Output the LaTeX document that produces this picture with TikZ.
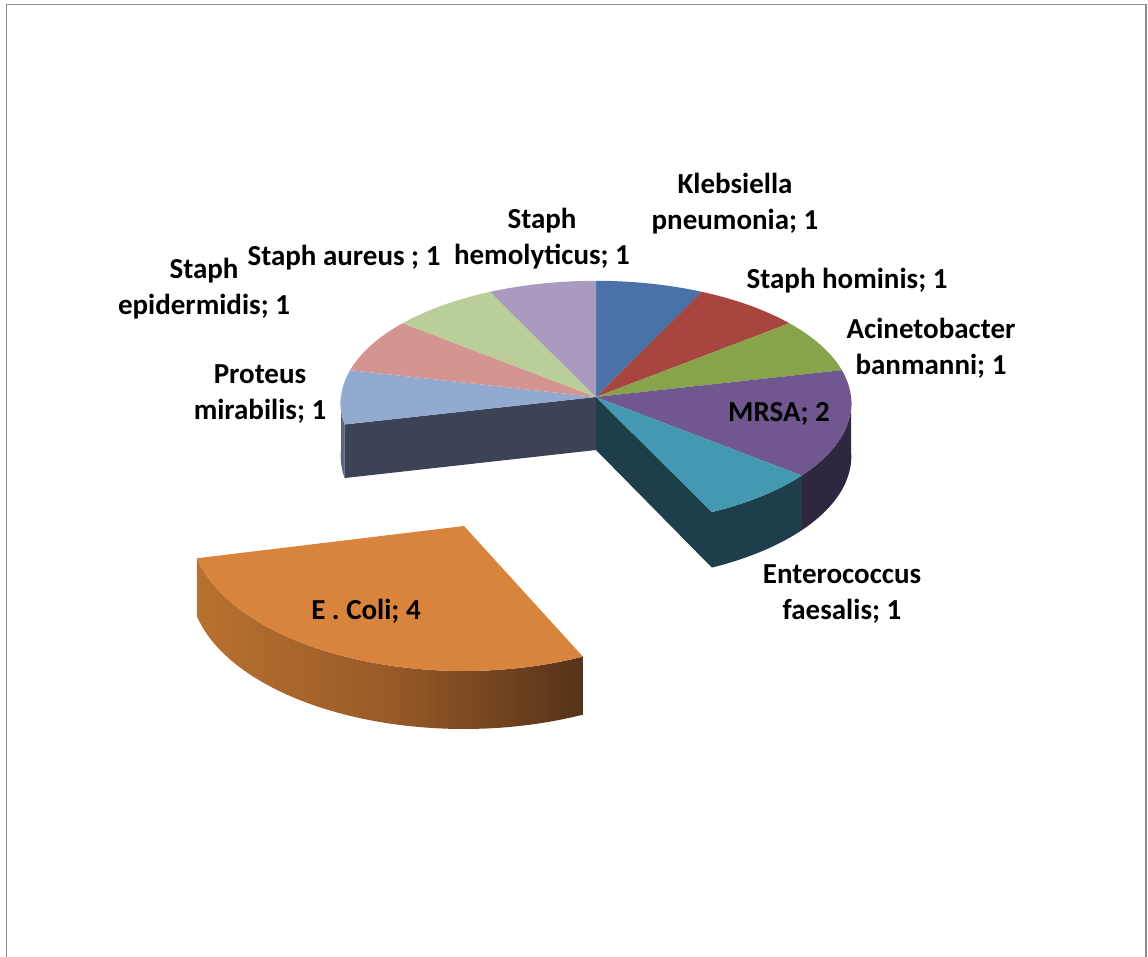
\documentclass[tikz,border=0pt]{standalone}
\usepackage{fontspec}
\setmainfont{Carlito}
\definecolor{cKleb}{HTML}{4A72A8}
\definecolor{cHom}{HTML}{A8453F}
\definecolor{cAcin}{HTML}{88A44B}
\definecolor{cMrsa}{HTML}{71578F}
\definecolor{cEnte}{HTML}{4299B0}
\definecolor{cEcoli}{HTML}{D9843D}
\definecolor{cProt}{HTML}{92A9D0}
\definecolor{cEpid}{HTML}{D49591}
\definecolor{cAur}{HTML}{B9CE98}
\definecolor{cHemo}{HTML}{A99ABF}
\definecolor{sMrsa}{HTML}{2F2640}
\definecolor{sEnte}{HTML}{1D3E4A}
\definecolor{sProt}{HTML}{3C4356}
\definecolor{sProtRim}{HTML}{5A6680}
\definecolor{sEcL}{HTML}{B8722F}
\definecolor{sEcM}{HTML}{985A27}
\definecolor{sEcR}{HTML}{55321A}
\definecolor{frameGray}{HTML}{8A8A8A}
\newcommand\mainx[1]{596+255*sin(#1)/(1+0.05*cos(#1))}
\newcommand\mainy[1]{397-122*cos(#1)/(1+0.05*cos(#1))}
\newcommand\mainyb[1]{397+(53-122*cos(#1))/(1+0.05*cos(#1))}
\newcommand\ecx[1]{464+274*sin(#1)}
\newcommand\ecy[1]{526-145*cos(#1)}
\newcommand\topslice[3]{\fill[#3] (596,397) -- plot[domain=#1:#2,samples=30,variable=\t] ({\mainx{\t}},{\mainy{\t}}) -- cycle;}
\newcommand\rimface[3]{\fill[#3] plot[domain=#1:#2,samples=30,variable=\t] ({\mainx{\t}},{\mainy{\t}}) -- plot[domain=#2:#1,samples=30,variable=\t] ({\mainx{\t}},{\mainyb{\t}}) -- cycle;}
\newcommand\cutface[2]{\fill[#2] (596,397) -- ({\mainx{#1}},{\mainy{#1}}) -- ({\mainx{#1}},{\mainyb{#1}}) -- (596,450) -- cycle;}
\tikzset{
  lbl/.style={font=\fontsize{29}{36}\selectfont\bfseries, align=center, inner sep=0pt, text=black},
  framestyle/.style={draw=frameGray, line width=1.6pt}
}
\begin{document}
\begin{tikzpicture}[x=1pt,y=-1pt]
\useasboundingbox (0,0) rectangle (1148,957);
\fill[white] (0,0) rectangle (1148,957);
\draw[framestyle] (6.5,957) -- (6.5,4.5) -- (1146.2,4.5) -- (1146.2,957);
% side faces of the main pie
\rimface{257.143}{270}{sProtRim}
\cutface{257.143}{sProt}
\rimface{90}{128.571}{sMrsa}
\rimface{128.571}{154.286}{sEnte}
\cutface{154.286}{sEnte}
% top faces of the main pie
\topslice{0}{25.714}{cKleb}
\topslice{25.714}{51.429}{cHom}
\topslice{51.429}{77.143}{cAcin}
\topslice{77.143}{128.571}{cMrsa}
\topslice{128.571}{154.286}{cEnte}
\topslice{257.143}{282.857}{cProt}
\topslice{282.857}{308.571}{cEpid}
\topslice{308.571}{334.286}{cAur}
\topslice{334.286}{360}{cHemo}
% exploded E. Coli slice
\shade[left color=sEcL, right color=sEcR, middle color=sEcM]
  plot[domain=154.286:257.143,samples=40,variable=\t] ({\ecx{\t}},{\ecy{\t}})
  -- plot[domain=257.143:154.286,samples=40,variable=\t] ({\ecx{\t}},{\ecy{\t}+58}) -- cycle;
\fill[cEcoli] (464,526) -- plot[domain=154.286:257.143,samples=40,variable=\t] ({\ecx{\t}},{\ecy{\t}}) -- cycle;
% labels
\node[lbl] (kleb) at (735,204) {Klebsiella\\pneumonia; 1};
\node[lbl] (hom) at (847,281) {Staph hominis; 1};
\node[lbl] (acin) at (931,348) {Acinetobacter\\banmanni; 1};
\node[lbl] (mrsa) at (779,414) {MRSA; 2};
\node[lbl] (ente) at (842,594) {Enterococcus\\faesalis; 1};
\node[lbl] (ecoli) at (366,611) {E . Coli; 4};
\node[lbl] (prot) at (260,394) {Proteus\\mirabilis; 1};
\node[lbl] (epid) at (204,289) {Staph\\epidermidis; 1};
\node[lbl] (aur) at (344,258) {Staph aureus ; 1};
\node[lbl] (hemo) at (542,239) {Staph\\hemolyticus; 1};
\end{tikzpicture}
\end{document}
